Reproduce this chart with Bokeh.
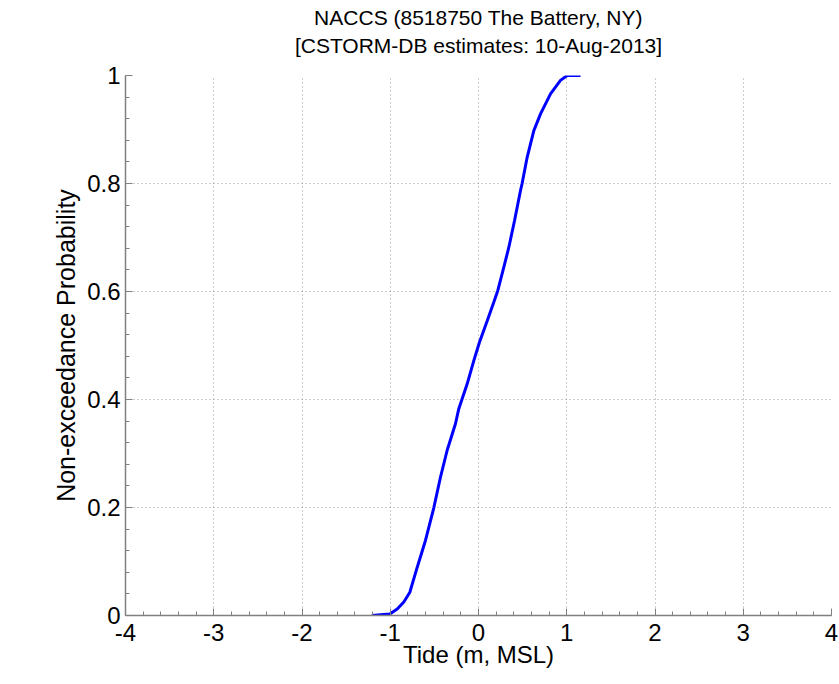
from bokeh.plotting import figure
from bokeh.models import (Range1d, FixedTicker, ColumnDataSource, Title,
                          LinearAxis)
from bokeh.embed import file_html
from bokeh.resources import INLINE

# --- data ---
tide_m = [-1.21, -1.005, -0.921, -0.846, -0.778, -0.695, -0.601, -0.507, -0.431,
          -0.355, -0.261, -0.223, -0.128, -0.053, 0.011, 0.099, 0.173, 0.219,
          0.287, 0.344, 0.408, 0.476, 0.494, 0.552, 0.627, 0.703, 0.816, 0.929,
          1.005, 1.156]
prob = [0.0, 0.003, 0.012, 0.025, 0.043, 0.089, 0.139, 0.199, 0.256,
        0.306, 0.355, 0.383, 0.429, 0.472, 0.506, 0.546, 0.580, 0.602,
        0.645, 0.682, 0.731, 0.787, 0.800, 0.849, 0.898, 0.929, 0.966, 0.991,
        1.0, 1.0]

x_ticks = [-4, -3, -2, -1, 0, 1, 2, 3, 4]
x_tick_labels = ["-4", "-3", "-2", "-1", "0", "1", "2", "3", "4"]
y_ticks = [0, 0.2, 0.4, 0.6, 0.8, 1]
y_tick_labels = ["0", "0.2", "0.4", "0.6", "0.8", "1"]
x_minor = [round(-4 + 0.2 * i, 2) for i in range(41)]
y_minor = [round(0.04 * i, 2) for i in range(26)]

title_line1 = "NACCS (8518750 The Battery, NY)"
title_line2 = "[CSTORM-DB estimates: 10-Aug-2013]"

FONT = "Liberation Sans"
AX = "#808080"

p = figure(width=839, height=684, output_backend="svg", toolbar_location=None,
           x_range=Range1d(-4, 4), y_range=Range1d(0, 1),
           min_border_left=125, min_border_right=8, min_border_top=75,
           min_border_bottom=69, background_fill_color="white",
           border_fill_color="white", outline_line_color=None)

src = ColumnDataSource(dict(x=tide_m, y=prob))
p.line("x", "y", source=src, line_color="#0000ff", line_width=3)

bottom_axis = p.below[0]
left_axis = p.left[0]

bottom_axis.ticker = FixedTicker(ticks=x_ticks, minor_ticks=x_minor)
left_axis.ticker = FixedTicker(ticks=y_ticks, minor_ticks=y_minor)
bottom_axis.major_label_overrides = {t: l for t, l in zip(x_ticks, x_tick_labels)}
left_axis.major_label_overrides = {t: l for t, l in zip(y_ticks, y_tick_labels)}

for ax in (bottom_axis, left_axis):
    ax.axis_line_color = AX
    ax.axis_line_width = 1.5
    ax.major_tick_line_color = AX
    ax.minor_tick_line_color = AX
    ax.major_tick_in = 7
    ax.major_tick_out = 0
    ax.minor_tick_in = 4
    ax.minor_tick_out = 0
    ax.major_label_text_font = FONT
    ax.major_label_text_font_size = "24px"
    ax.major_label_text_color = "black"
    ax.axis_label_text_font = FONT
    ax.axis_label_text_font_style = "normal"
    ax.axis_label_text_color = "black"

bottom_axis.axis_label = "Tide (m, MSL)"
bottom_axis.axis_label_text_font_size = "24px"
bottom_axis.major_label_standoff = 8
bottom_axis.axis_label_standoff = -3
left_axis.axis_label = "Non-exceedance Probability"
left_axis.axis_label_text_font_size = "25px"
left_axis.major_label_standoff = 5
left_axis.axis_label_standoff = 4

for g in (p.xgrid[0], p.ygrid[0]):
    g.grid_line_color = "#9a9a9a"
    g.grid_line_dash = "1 3"
    g.grid_line_width = 1

# second title line: label of a bare axis above the frame
title_axis = LinearAxis(ticker=FixedTicker(ticks=[], minor_ticks=[]),
                        axis_label=title_line2,
                        axis_line_color=None, major_tick_line_color=None,
                        minor_tick_line_color=None, major_tick_out=0,
                        major_tick_in=0, minor_tick_out=0, minor_tick_in=0,
                        major_label_standoff=0, axis_label_standoff=19,
                        major_label_text_font_size="0px",
                        axis_label_text_font=FONT, axis_label_text_font_size="21px",
                        axis_label_text_font_style="normal",
                        axis_label_text_color="black")
p.add_layout(title_axis, "above")
# first title line
p.add_layout(Title(text=title_line1, align="center", text_font=FONT,
                   text_font_size="21px", text_font_style="normal",
                   text_color="black", standoff=4), "above")

open("out.html", "w").write(file_html(p, INLINE))
